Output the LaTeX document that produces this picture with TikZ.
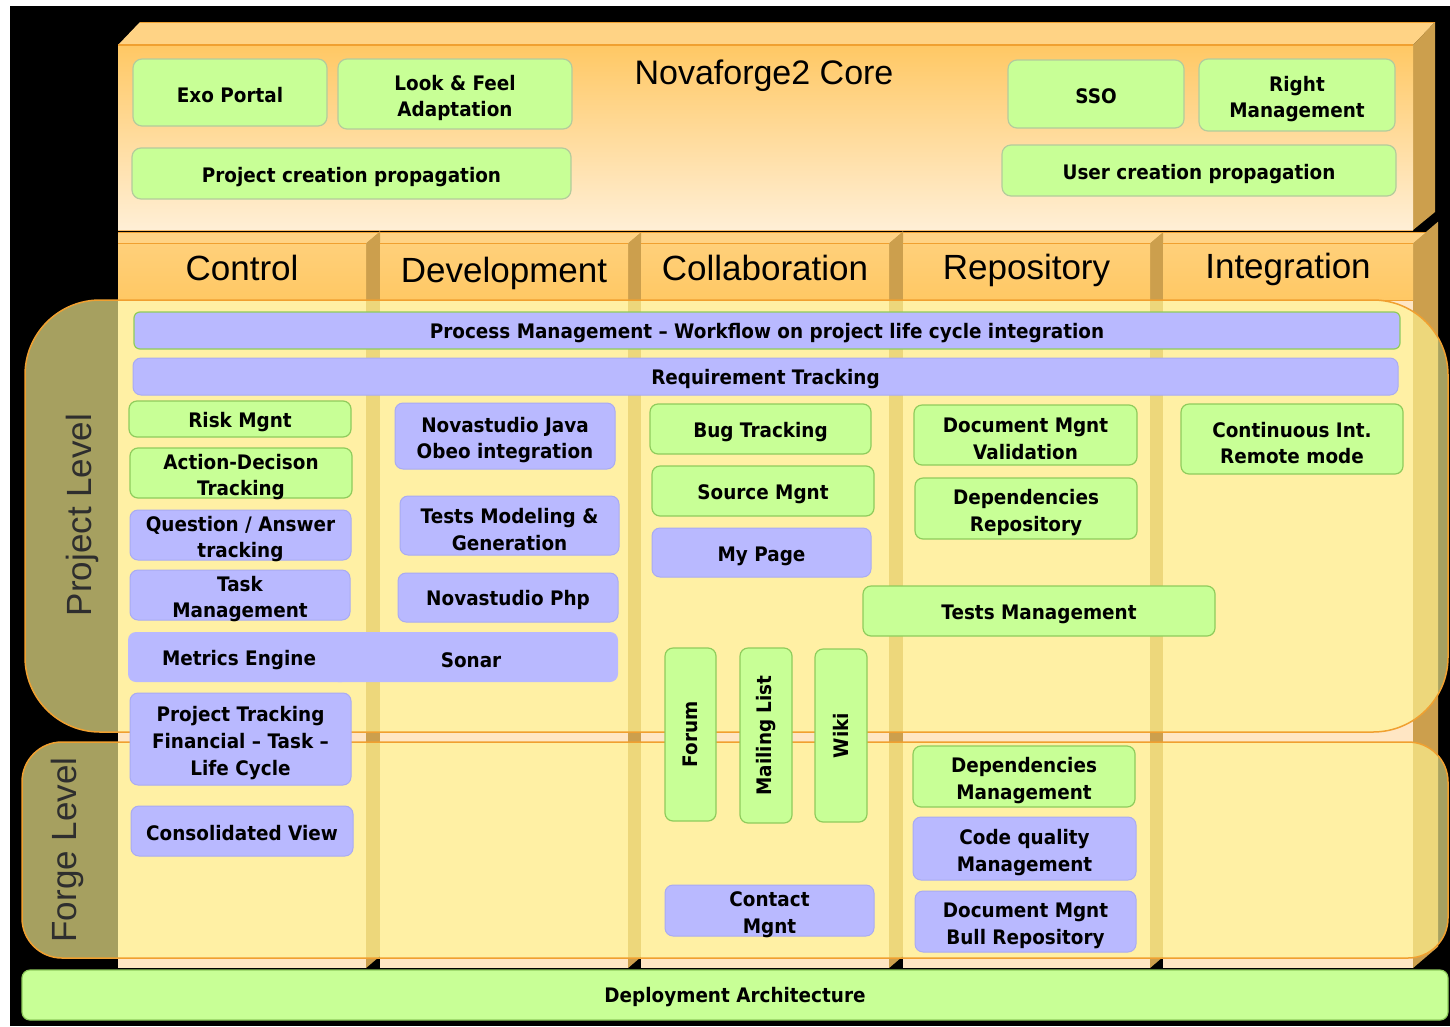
\documentclass[tikz,border=0pt]{standalone}
\usepackage{fontspec}
\setmainfont{Liberation Sans}
\newfontfamily\boxfont{DejaVu Sans}[FakeStretch=0.92]
\definecolor{gfill}{HTML}{C8FF96}
\definecolor{gline}{HTML}{8FCC5C}
\definecolor{cgline}{HTML}{B4CC9C}
\definecolor{bfill}{HTML}{B9B9FF}
\definecolor{bline}{HTML}{A9ABF2}
\definecolor{hdr}{HTML}{FFC864}
\definecolor{hdrlight}{HTML}{FFD07A}
\definecolor{hdrtop}{HTML}{FFD385}
\definecolor{side}{HTML}{CC9F4D}
\definecolor{orl}{HTML}{F0A030}
\definecolor{peach}{HTML}{FFE6C4}
\definecolor{cream}{HTML}{FFEFD6}
\definecolor{bandc}{HTML}{FFF694}
\definecolor{lvltext}{HTML}{2E2E2E}
\tikzset{
  boxtext/.style={font=\boxfont\bfseries\fontsize{20}{26.8}\selectfont, align=center, inner sep=0pt, text=black},
  gbox/.style={boxtext, draw=gline, fill=gfill, rounded corners=8pt, line width=1.2pt},
  cgbox/.style={boxtext, draw=cgline, fill=gfill, rounded corners=9pt, line width=1.2pt},
  bbox/.style={boxtext, draw=bline, fill=bfill, rounded corners=8pt, line width=1pt},
  pbar/.style={boxtext, draw=gline, fill=bfill, rounded corners=6pt, line width=1.2pt},
  mbox/.style={boxtext, fill=bfill, rounded corners=8pt},
  hdrtext/.style={font=\fontsize{35}{40}\selectfont, inner sep=0pt, text=black, anchor=base},
  lvl/.style={font=\fontsize{35}{40}\selectfont, inner sep=0pt, text=lvltext, rotate=90},
  band/.style={draw=orl, line width=1.5pt, fill=bandc, fill opacity=0.65},
}
% [text drop] name, x1, y1, x2, y2, style, text
\newcommand\bx[8][3pt]{\node[#7, minimum width={(#5-#3)*1pt}, minimum height={(#6-#4)*1pt},
  label={[boxtext, yshift=-#1]center:{#8}}] (#2) at ({(#3+#5)/2},{(#4+#6)/2}) {};}
% vertical box: name, x1, y1, x2, y2, style, text
\newcommand\vbx[7]{\node[#6, rotate=90, minimum width={(#5-#3)*1pt}, minimum height={(#4-#2)*1pt}] (#1) at ({(#2+#4)/2},{(#3+#5)/2}) {#7};}
% column: name, x1, x2, label, side width, baseline
\newcommand\colm[6]{%
  \fill[peach] (#2,243) rectangle (#3,968);
  \fill[side] (#3,243) -- ({#3+#5},{243-#5*0.85}) -- ({#3+#5},{968-#5*0.85}) -- (#3,968) -- cycle;
  \fill[hdrtop] (#2,243) -- ({#2+13},232) -- ({#3+13},232) -- (#3,243) -- cycle;
  \shade[top color=hdrlight, bottom color=hdr] (#2,243) rectangle (#3,300);
  \draw[orl, line width=1pt] (#2,243) -- (#3,243) (#2,300) -- (#3,300) (#2,232.5) -- ({#3+13},232.5);
  \node[hdrtext] (#1) at ({(#2+#3)/2},#6) {#4};
}
\begin{document}
\begin{tikzpicture}[x=1pt,y=-1pt]
\useasboundingbox (0,0) rectangle (1450,1026);
\fill[white] (0,0) rectangle (1450,1026);
\fill[black] (10,6) rectangle (1450,1026);

% ---------- core block ----------
\fill[hdrtop] (118,45) -- (140,22) -- (1435,22) -- (1413,45) -- cycle;
\fill[side] (1413,45) -- (1435,22) -- (1435,212) -- (1413,230) -- cycle;
\shade[top color=hdr, bottom color=cream] (118,45) rectangle (1413,230);
\draw[orl, line width=1.2pt] (140,22.5) -- (1435,22.5) (118,45) -- (1413,45);
\draw[orl!70, line width=1pt] (118,230) -- (1413,230);
\node[hdrtext, font=\fontsize{34}{40}\selectfont] (core) at (764,84) {Novaforge2 Core};
\bx{exo}{133}{59}{327}{126}{cgbox}{Exo Portal}
\bx[4pt]{look}{338}{59}{572}{129}{cgbox}{Look \& Feel\\Adaptation}
\bx[3.5pt]{projprop}{132}{148}{571}{199}{cgbox}{Project creation propagation}
\bx[2pt]{sso}{1008}{60}{1184}{128}{cgbox}{SSO}
\bx[4pt]{right}{1199}{59}{1395}{131}{cgbox}{Right\\Management}
\bx[3.5pt]{userprop}{1002}{145}{1396}{196}{cgbox}{User creation propagation}

% ---------- columns ----------
\fill[hdrtop] (118,232) rectangle (1438,243);
\colm{hcontrol}{118}{366}{Control}{14}{280}
\colm{hdev}{380}{628}{Development}{13}{282}
\colm{hcollab}{641}{889}{Collaboration}{14}{280}
\colm{hrepo}{903}{1150}{Repository}{13}{279}
\colm{hinteg}{1163}{1413}{Integration}{25}{278}

% ---------- level bands ----------
\draw[band, rounded corners=75pt] (25,300) rectangle (1448,732);
\draw[band, rounded corners=40pt] (22,742) rectangle (1448,958);
\node[lvl] (plevel) at (82,515) {Project Level};
\node[lvl] (flevel) at (67,850) {Forge Level};

% ---------- transverse bars ----------
\bx{process}{134}{312}{1400}{349}{pbar}{Process Management – Workflow on project life cycle integration}
\bx{req}{133}{358}{1398}{395}{bbox}{Requirement Tracking}

% ---------- control ----------
\bx{risk}{129}{401}{351}{437}{gbox}{Risk Mgnt}
\bx[4pt]{action}{130}{448}{352}{498}{gbox}{Action-Decison\\Tracking}
\bx[4pt]{qa}{130}{510}{351}{560}{bbox}{Question / Answer\\tracking}
\bx[4pt]{task}{130}{570}{350}{620}{bbox}{Task\\Management}
\bx[3.5pt]{sonar}{330}{632}{618}{682}{mbox}{\hspace*{-6pt}Sonar}
\bx[3.5pt]{metrics}{128}{632}{350}{682}{mbox}{Metrics Engine}
\bx[4pt]{ptrack}{130}{693}{351}{785}{bbox}{Project Tracking\\Financial – Task –\\Life Cycle}
\bx[2pt]{consol}{131}{806}{353}{856}{bbox}{Consolidated View}

% ---------- development ----------
\bx[4pt]{java}{395}{403}{615}{469}{bbox}{Novastudio Java\\Obeo integration}
\bx[4pt]{tmg}{400}{496}{619}{555}{bbox}{Tests Modeling \&\\Generation}
\bx[2.5pt]{php}{398}{573}{618}{622}{bbox}{Novastudio Php}

% ---------- collaboration ----------
\bx{bug}{650}{404}{871}{454}{gbox}{Bug Tracking}
\bx{source}{652}{466}{874}{516}{gbox}{Source Mgnt}
\bx[3.5pt]{mypage}{652}{528}{871}{577}{bbox}{My Page}
\vbx{forum}{665}{648}{716}{821}{gbox}{Forum}
\vbx{mailing}{740}{648}{792}{823}{gbox}{Mailing List}
\vbx{wiki}{815}{649}{867}{822}{gbox}{Wiki}
\bx[4pt]{contact}{665}{885}{874}{936}{bbox}{Contact\\Mgnt}

% ---------- repository ----------
\bx[4pt]{docval}{914}{405}{1137}{465}{gbox}{Document Mgnt\\Validation}
\bx[4pt]{deprepo}{915}{478}{1137}{539}{gbox}{Dependencies\\Repository}
\bx{testsm}{863}{586}{1215}{636}{gbox}{Tests Management}
\bx[4pt]{depman}{913}{746}{1135}{807}{gbox}{Dependencies\\Management}
\bx[4pt]{codeq}{913}{817}{1136}{880}{bbox}{Code quality\\Management}
\bx[4pt]{docbull}{915}{891}{1136}{952}{bbox}{Document Mgnt\\Bull Repository}

% ---------- integration ----------
\bx[4pt]{contint}{1181}{404}{1403}{474}{gbox}{Continuous Int.\\Remote mode}

% ---------- deployment ----------
\bx[2pt]{deploy}{22}{970}{1448}{1020}{gbox}{Deployment Architecture}
\end{tikzpicture}
\end{document}
